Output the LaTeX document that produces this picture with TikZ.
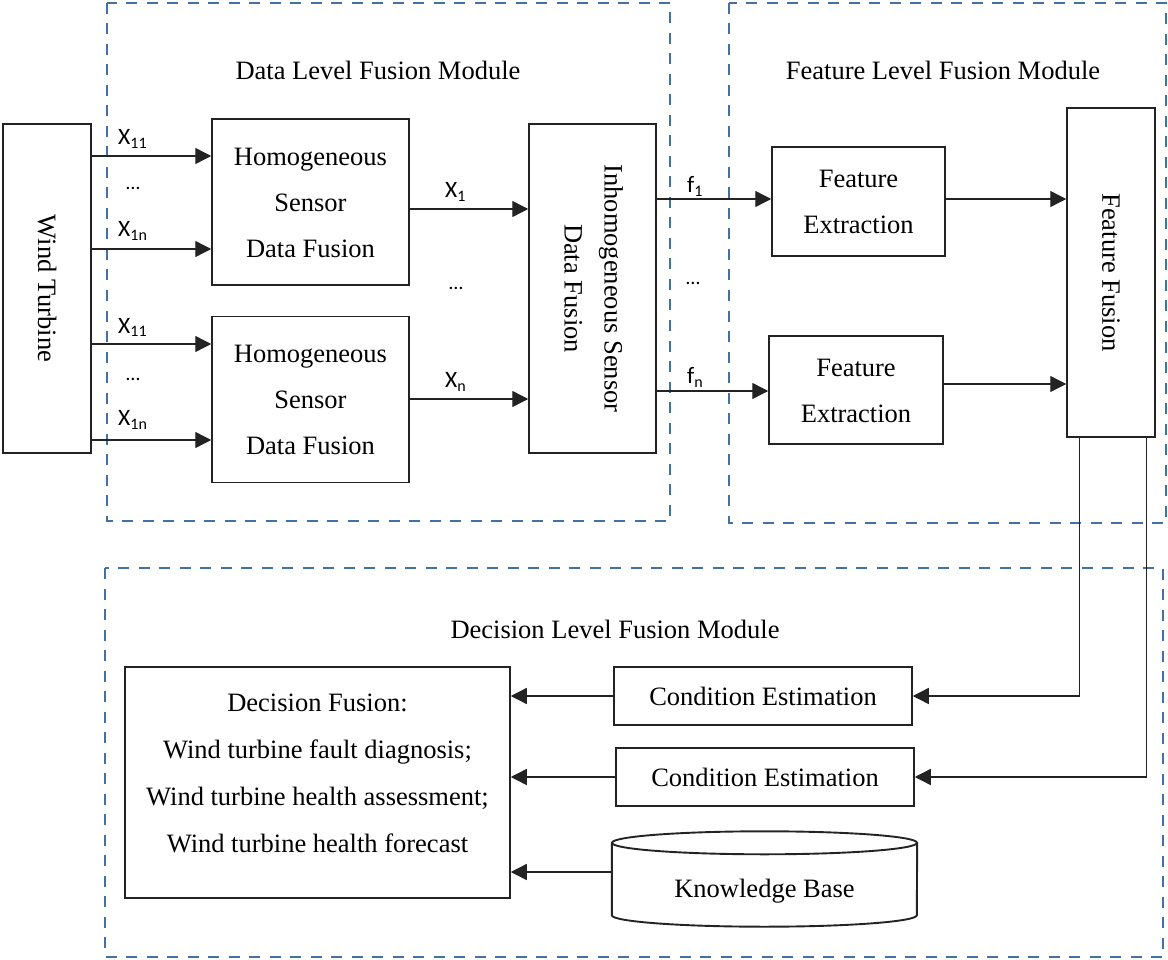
\documentclass[tikz,border=0pt]{standalone}
\usepackage{fontspec}
\setmainfont{Liberation Serif}
\newfontfamily\serifx{Liberation Serif}
\newfontfamily\sansx{Carlito}
\usetikzlibrary{arrows.meta,calc}
\definecolor{dashblue}{RGB}{68,114,160}
\definecolor{ink}{RGB}{35,35,35}
\newcommand\mainsz{\serifx\fontsize{26.5}{46}\selectfont}
\newcommand\lines[2]{\raisebox{0pt}[\height][\depth]{\fontsize{26.5}{#1}\selectfont\begin{tabular}{@{}c@{}}#2\end{tabular}}}
\newcommand\one[1]{\raisebox{0pt}[\height][\depth]{#1}}
\newcommand\lab[2]{{\sansx\fontsize{23.5}{23.5}\selectfont #1\raisebox{-4pt}{\fontsize{16}{16}\selectfont #2}}}
\begin{document}
\begin{tikzpicture}[x=1pt,y=1pt,
  box/.style={draw=ink, line width=1.5pt, inner sep=0pt, font=\mainsz},
  arr/.style={draw=ink, line width=1.4pt, -{Triangle[length=16pt,width=16pt]}},
  module/.style={draw=dashblue, line width=2.8pt, dash pattern=on 11pt off 9.5pt},
  title/.style={font=\mainsz, inner sep=0pt},
  lbl/.style={inner sep=0pt, anchor=base west},
  dots/.style={inner sep=0pt, anchor=base west, font=\sansx\fontsize{20}{20}\selectfont},
]
\useasboundingbox (0,0) rectangle (1168,-960);

% module frames
\draw[module] (107,-3) rectangle (670,-521);
\draw[module] (729,-3) rectangle (1166,-523);
\draw[module] (105,-568) rectangle (1163,-957);

\node[title] (t1) at (378,-70) {Data Level Fusion Module};
\node[title] (t2) at (943,-70) {Feature Level Fusion Module};
\node[title] (t3) at (615,-629) {Decision Level Fusion Module};

% boxes
\node[box, minimum width=88pt, minimum height=329pt] (wt) at (47,-288.5) {\rotatebox{-90}{Wind Turbine}};
\node[box, minimum width=197pt, minimum height=166pt] (h1) at (310.5,-202) {\lines{46}{Homogeneous\\Sensor\\Data Fusion}};
\node[box, minimum width=197pt, minimum height=166pt] (h2) at (310.5,-399.5) {\lines{46}{Homogeneous\\Sensor\\Data Fusion}};
\node[box, minimum width=127pt, minimum height=329pt] (in) at (592.5,-288.5)
  {\rotatebox{-90}{\lines{40}{Inhomogeneous Sensor\\Data Fusion}}};
\node[box, minimum width=173pt, minimum height=109pt] (fe1) at (858.5,-201.5) {\lines{46}{Feature\\Extraction}};
\node[box, minimum width=174pt, minimum height=108pt] (fe2) at (856,-390) {\lines{46}{Feature\\Extraction}};
\node[box, minimum width=88pt, minimum height=329pt] (ff) at (1111,-272.5) {\rotatebox{-90}{Feature Fusion}};
\node[box, minimum width=385pt, minimum height=231pt] (df) at (317.5,-782.5)
  {\raisebox{10pt}[\height][\depth]{\lines{47}{Decision Fusion:\\Wind turbine fault diagnosis;\\Wind turbine health assessment;\\Wind turbine health forecast}}};
\node[box, minimum width=298pt, minimum height=58pt] (ce1) at (763,-696) {\one{Condition Estimation}};
\node[box, minimum width=298pt, minimum height=58pt] (ce2) at (765,-777) {\one{Condition Estimation}};

% knowledge base cylinder
\node[font=\mainsz, inner sep=0pt, minimum width=305pt, minimum height=72pt] (kb) at (764.5,-879)
  {\raisebox{-12pt}[\height][\depth]{Knowledge Base}};
\draw[ink, line width=1.9pt] (kb.north west) -- (kb.south west)
  arc[start angle=180, end angle=360, x radius=152.5, y radius=11.5] -- (kb.north east);
\draw[ink, line width=1.9pt] (kb.north) ellipse[x radius=152.5, y radius=11.5];

% row coordinates
\coordinate (a1) at (0,-156);
\coordinate (a2) at (0,-249);
\coordinate (a3) at (0,-344);
\coordinate (a4) at (0,-440);
\coordinate (b1) at (0,-209);
\coordinate (b2) at (0,-399);
\coordinate (c1) at (0,-199);
\coordinate (c2) at (0,-391);
\coordinate (d2) at (0,-384);

% wind turbine -> homogeneous
\draw[arr] (wt.east |- a1) -- (h1.west |- a1);
\draw[arr] (wt.east |- a2) -- (h1.west |- a2);
\draw[arr] (wt.east |- a3) -- (h2.west |- a3);
\draw[arr] (wt.east |- a4) -- (h2.west |- a4);
\node[lbl] (l1) at (118,-145) {\lab{X}{11}};
\node[dots] (k1) at (126,-190) {…};
\node[lbl] (l2) at (118,-237) {\lab{X}{1n}};
\node[lbl] (l3) at (118,-333) {\lab{X}{11}};
\node[dots] (k2) at (126,-380) {…};
\node[lbl] (l4) at (118,-425) {\lab{X}{1n}};

% homogeneous -> inhomogeneous
\draw[arr] (h1.east |- b1) -- (in.west |- b1);
\draw[arr] (h2.east |- b2) -- (in.west |- b2);
\node[lbl] (l5) at (445,-198) {\lab{X}{1}};
\node[dots] (k3) at (449,-290) {…};
\node[lbl] (l6) at (445,-387) {\lab{X}{n}};

% inhomogeneous -> feature extraction
\draw[arr] (in.east |- c1) -- (fe1.west |- c1);
\draw[arr] (in.east |- c2) -- (fe2.west |- c2);
\node[lbl] (l7) at (687,-193) {\lab{f}{1}};
\node[dots] (k4) at (686,-285) {…};
\node[lbl] (l8) at (687,-383) {\lab{f}{n}};

% feature extraction -> feature fusion
\draw[arr] (fe1.east |- c1) -- (ff.west |- c1);
\draw[arr] (fe2.east |- d2) -- (ff.west |- d2);

% feature fusion -> condition estimation
\coordinate (e1) at ($(ff.south west)+(13,0)$);
\coordinate (e2) at ($(ff.south east)+(-9,0)$);
\draw[arr] (e1) |- (ce1.east);
\draw[arr] (e2) |- (ce2.east);

% into decision fusion
\draw[arr] (ce1.west) -- (ce1.west -| df.east);
\draw[arr] (ce2.west) -- (ce2.west -| df.east);
\coordinate (kbo) at ($(kb.west)+(0,7)$);
\draw[arr] (kbo) -- (kbo -| df.east);
\end{tikzpicture}
\end{document}
